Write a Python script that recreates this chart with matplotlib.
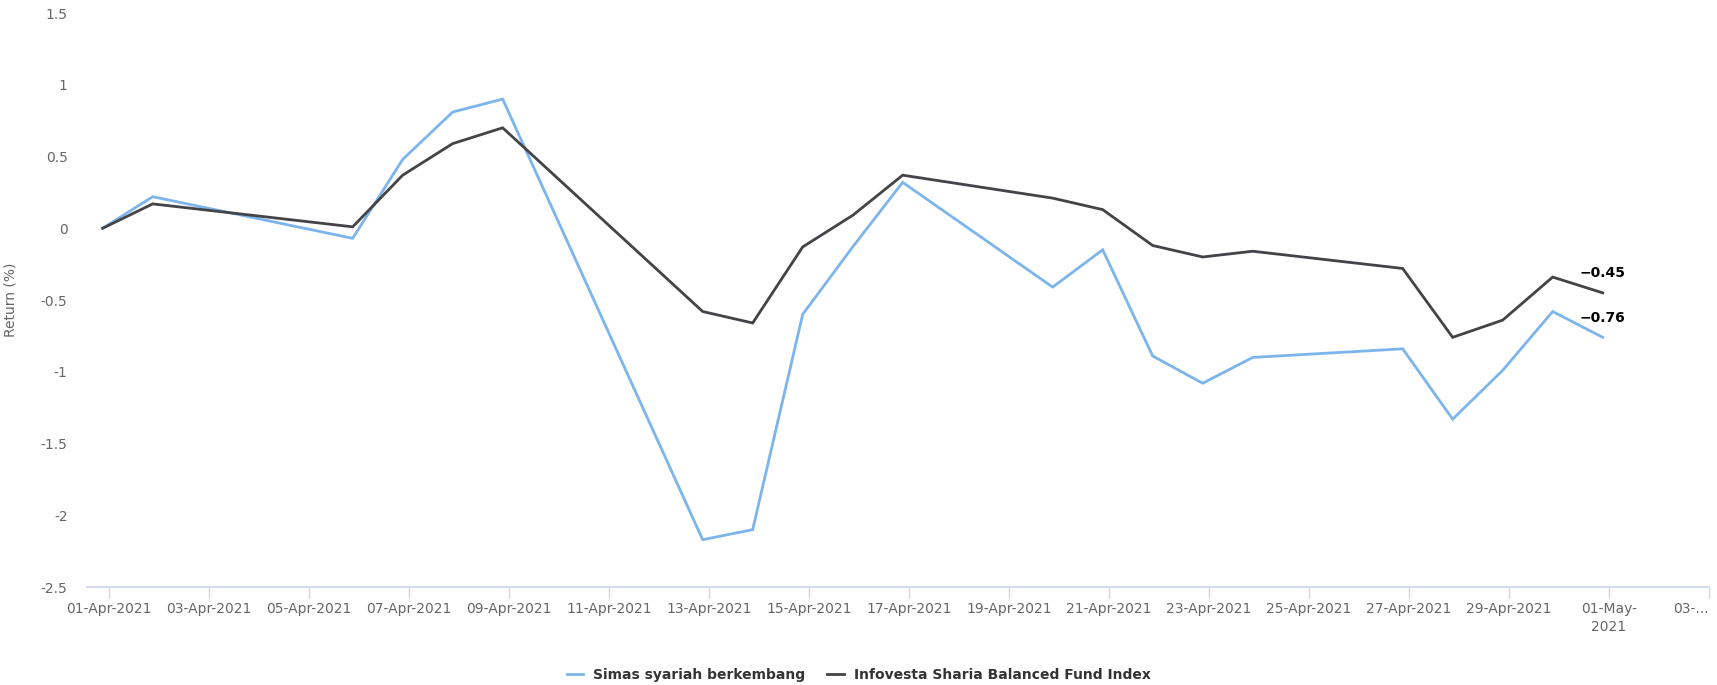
import pandas as pd
import matplotlib.pyplot as plt
import matplotlib.dates as mdates

# data (daily return, %)
dates = ["2021-04-01", "2021-04-02", "2021-04-06", "2021-04-07", "2021-04-08", "2021-04-09",
         "2021-04-13", "2021-04-14", "2021-04-15", "2021-04-16", "2021-04-17", "2021-04-20",
         "2021-04-21", "2021-04-22", "2021-04-23", "2021-04-24", "2021-04-27", "2021-04-28",
         "2021-04-29", "2021-04-30", "2021-05-01"]
fund = [0.00, 0.22, -0.07, 0.48, 0.81, 0.90, -2.17, -2.10, -0.60, -0.13, 0.32, -0.41,
        -0.15, -0.89, -1.08, -0.90, -0.84, -1.33, -0.99, -0.58, -0.76]
index = [0.00, 0.17, 0.01, 0.37, 0.59, 0.70, -0.58, -0.66, -0.13, 0.09, 0.37, 0.21,
         0.13, -0.12, -0.20, -0.16, -0.28, -0.76, -0.64, -0.34, -0.45]
fund_name = "Simas syariah berkembang"
index_name = "Infovesta Sharia Balanced Fund Index"
y_ticks = [-2.5, -2, -1.5, -1, -0.5, 0, 0.5, 1, 1.5]

BLUE = "#7cb5ec"
DARK = "#434348"
GREY = "#666666"
AXIS = "#ccd6eb"

# points sit a few hours before midnight (timezone shift)
x = pd.to_datetime(dates) - pd.Timedelta(hours=3)

plt.rcParams['font.family'] = ['DejaVu Sans']
fig = plt.figure(figsize=(17.17, 6.85), dpi=100)
ax = fig.add_axes([0.0507, 0.143, 0.9446, 0.838])

ax.plot(x, fund, color=BLUE, lw=2, label=fund_name, solid_joinstyle="miter")
ax.plot(x, index, color=DARK, lw=2, label=index_name, solid_joinstyle="miter")

# end-of-series value labels
for series in (index, fund):
    ax.annotate("{:.2f}".format(series[-1]).replace("-", "\u2212"), (x[-1], series[-1]),
                xytext=(0, 9), textcoords="offset points", ha="center", va="bottom",
                fontsize=10, fontweight="bold", color="black")

start = pd.Timestamp("2021-04-01")
ax.set_xlim(start - pd.Timedelta(hours=10.5), pd.Timestamp("2021-05-03"))
ax.set_ylim(-2.5, 1.5)

ticks = pd.date_range("2021-04-01", "2021-05-03", freq="2D")
tick_labels = [t.strftime("%d-%b-%Y") for t in ticks]
tick_labels[-2] = "01-May-\n2021"
tick_labels[-1] = "03-..."
ax.set_xticks(ticks)
ax.set_xticklabels(tick_labels, fontsize=10, color=GREY, linespacing=1.35)
ax.tick_params(axis="x", length=8, width=1, color=AXIS, pad=3)
# last label is clipped by the chart edge, keep it inside
last = ax.get_xticklabels()[-1]
last.set_ha("right")
last.set_x(last.get_position()[0])

ax.set_yticks(y_ticks)
ax.set_yticklabels(["{:g}".format(v) for v in y_ticks], fontsize=10, color=GREY)
ax.tick_params(axis="y", length=0, pad=14)

ax.set_ylabel("Return (%)", fontsize=10, color=GREY)
ax.yaxis.set_label_coords(-0.043, 0.5)

for side in ["top", "right", "left"]:
    ax.spines[side].set_visible(False)
ax.spines["bottom"].set_color(AXIS)
ax.spines["bottom"].set_linewidth(1.2)

leg = fig.legend(loc="center", bbox_to_anchor=(0.5, 0.015), ncol=2, frameon=False,
                 handlelength=1.2, columnspacing=1.6, handletextpad=0.7,
                 prop={"weight": "bold", "size": 10})
for txt in leg.get_texts():
    txt.set_color("#333333")

fig.savefig("out.png", dpi=100, facecolor="white")
